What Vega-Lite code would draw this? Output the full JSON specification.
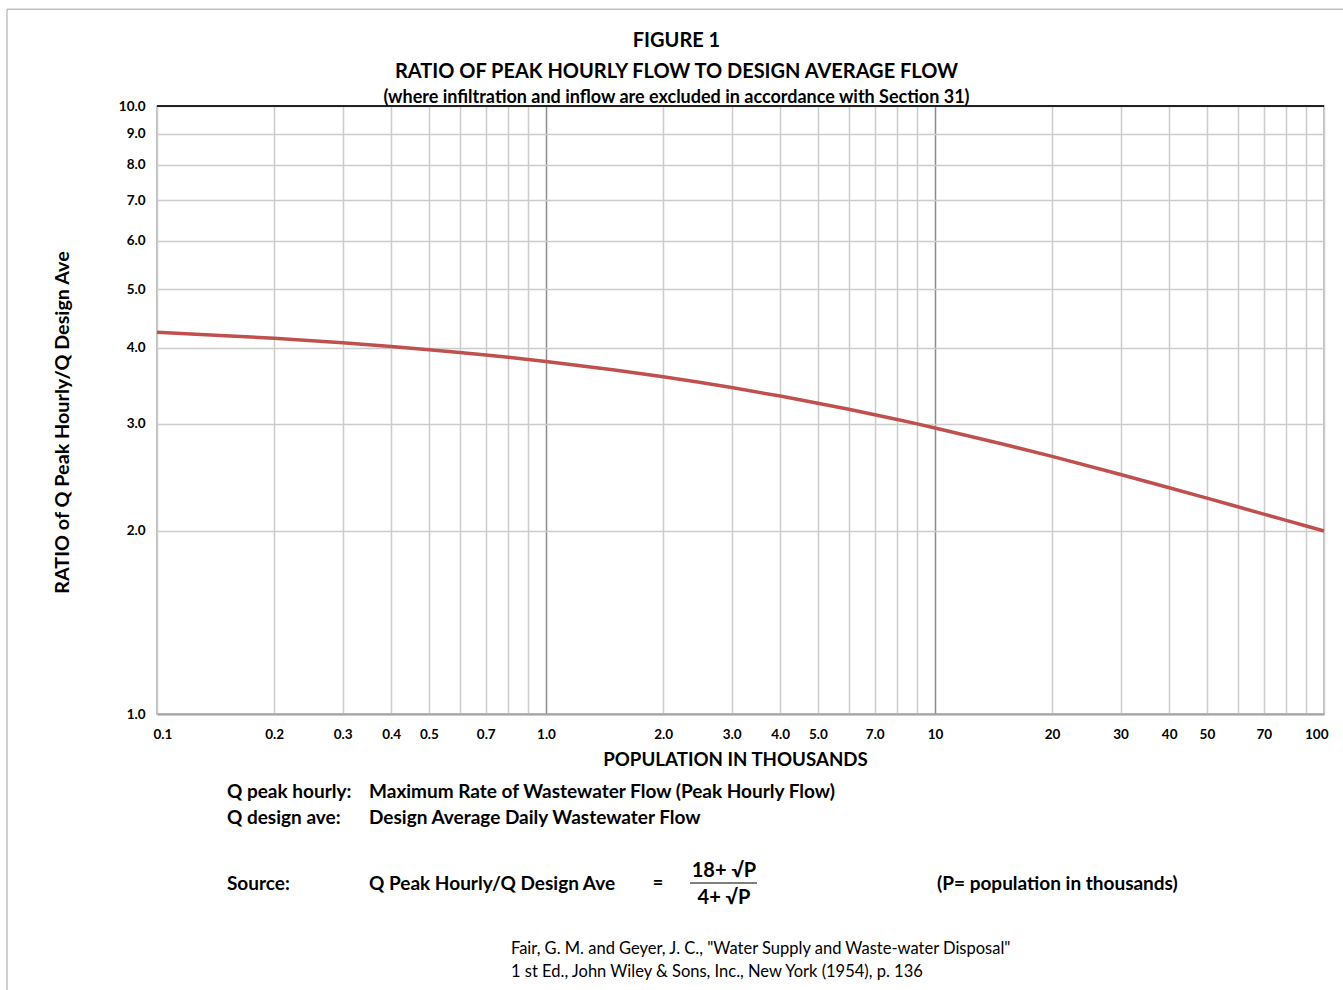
{
  "$schema": "https://vega.github.io/schema/vega-lite/v6.json",
  "width": 1167,
  "height": 608,
  "autosize": {"type": "none"},
  "padding": {"left": 157, "top": 106, "right": 19, "bottom": 276},
  "background": "white",
  "config": {
    "font": "Lato",
    "view": {"stroke": "#a6a6a6", "strokeWidth": 1.5}
  },
  "title": {
    "text": ["FIGURE 1", "RATIO OF PEAK HOURLY FLOW TO DESIGN AVERAGE FLOW"],
    "subtitle": "(where infiltration and inflow are excluded in accordance with Section 31)",
    "font": "Lato",
    "fontSize": 20,
    "fontWeight": "bold",
    "lineHeight": 31,
    "color": "#000000",
    "subtitleFont": "Lato",
    "subtitleFontSize": 18,
    "subtitleFontWeight": "bold",
    "subtitleColor": "#000000",
    "subtitlePadding": 7,
    "anchor": "middle",
    "dx": -64,
    "dy": 101,
    "offset": 3
  },
  "layer": [
    {
      "data": {
        "values": [
          {"population": 0.1, "ratio": 4.2436},
          {"population": 0.15, "ratio": 4.191},
          {"population": 0.2, "ratio": 4.148},
          {"population": 0.3, "ratio": 4.0785},
          {"population": 0.4, "ratio": 4.0222},
          {"population": 0.5, "ratio": 3.9742},
          {"population": 0.6, "ratio": 3.9322},
          {"population": 0.7, "ratio": 3.8946},
          {"population": 0.8, "ratio": 3.8604},
          {"population": 0.9, "ratio": 3.8291},
          {"population": 1, "ratio": 3.8},
          {"population": 1.5, "ratio": 3.6795},
          {"population": 2, "ratio": 3.5858},
          {"population": 3, "ratio": 3.4424},
          {"population": 4, "ratio": 3.3333},
          {"population": 5, "ratio": 3.245},
          {"population": 6, "ratio": 3.1707},
          {"population": 7, "ratio": 3.1066},
          {"population": 8, "ratio": 3.0503},
          {"population": 9, "ratio": 3.0},
          {"population": 10, "ratio": 2.9547},
          {"population": 15, "ratio": 2.7782},
          {"population": 20, "ratio": 2.6525},
          {"population": 30, "ratio": 2.4772},
          {"population": 40, "ratio": 2.356},
          {"population": 50, "ratio": 2.2646},
          {"population": 60, "ratio": 2.1919},
          {"population": 70, "ratio": 2.1321},
          {"population": 80, "ratio": 2.0816},
          {"population": 90, "ratio": 2.0381},
          {"population": 100, "ratio": 2.0}
        ]
      },
      "mark": {"type": "line", "color": "#c0504d", "strokeWidth": 3.5, "interpolate": "monotone"},
      "encoding": {
        "x": {
          "field": "population",
          "type": "quantitative",
          "scale": {"type": "log", "domain": [0.1, 100], "nice": false},
          "axis": {
            "title": "POPULATION IN THOUSANDS",
            "values": [0.1, 0.2, 0.3, 0.4, 0.5, 0.6, 0.7, 0.8, 0.9, 1, 2, 3, 4, 5, 6, 7, 8, 9, 10, 20, 30, 40, 50, 60, 70, 80, 90, 100],
            "labelExpr": "indexof([0.6, 0.8, 0.9, 6, 8, 9, 60, 80, 90], datum.value) >= 0 ? '' : (datum.value < 10 ? format(datum.value, '.1f') : format(datum.value, 'd'))",
            "labelFont": "Lato",
            "labelFontSize": 13.5,
            "labelFontWeight": "bold",
            "labelColor": "#000000",
            "labelPadding": 13,
            "labelFlush": true,
            "labelFlushOffset": 4,
            "labelOverlap": false,
            "ticks": false,
            "domainColor": "#a6a6a6",
            "domainWidth": 2,
            "gridColor": {"condition": {"test": "datum.value == 1 || datum.value == 10", "value": "#8c8c8c"}, "value": "#cccccc"},
            "gridWidth": 1.5,
            "titleFont": "Lato",
            "titleFontSize": 18.7,
            "titleFontWeight": "bold",
            "titleColor": "#000000",
            "titleX": 578,
            "titleY": 45,
            "titleBaseline": "middle"
          }
        },
        "y": {
          "field": "ratio",
          "type": "quantitative",
          "scale": {"type": "log", "domain": [1, 10], "nice": false},
          "axis": {
            "title": "RATIO of Q Peak Hourly/Q Design Ave",
            "values": [1, 2, 3, 4, 5, 6, 7, 8, 9, 10],
            "format": ".1f",
            "labelFont": "Lato",
            "labelFontSize": 13.5,
            "labelFontWeight": "bold",
            "labelColor": "#000000",
            "labelPadding": 12,
            "labelOverlap": false,
            "ticks": false,
            "domain": false,
            "gridColor": "#cccccc",
            "gridWidth": 1.5,
            "titleFont": "Lato",
            "titleFontSize": 19.8,
            "titleFontWeight": "bold",
            "titleColor": "#000000",
            "titleX": -95,
            "titleY": 316,
            "titleAngle": -90,
            "titleBaseline": "middle"
          }
        }
      }
    },
    {
      "data": {"values": [{}]},
      "mark": {"type": "rule", "color": "#222222", "strokeWidth": 2},
      "encoding": {"y": {"datum": 10}}
    },
    {
      "data": {"values": [{}]},
      "mark": {"type": "rule", "color": "#a0a0a0", "strokeWidth": 1},
      "encoding": {"x": {"datum": 0.04115}, "y": {"datum": 14.43}, "y2": {"datum": 0.3}}
    },
    {
      "data": {"values": [{}]},
      "mark": {"type": "rule", "color": "#a0a0a0", "strokeWidth": 1},
      "encoding": {"y": {"datum": 14.43}, "x": {"datum": 0.04115}, "x2": {"datum": 120}}
    },
    {
      "data": {"values": [{}]},
      "mark": {"type": "text", "align": "left", "baseline": "middle", "font": "Lato", "fontSize": 19, "fontWeight": "bold", "color": "#000000"},
      "encoding": {"x": {"datum": 0.1513}, "y": {"datum": 0.7437}, "text": {"value": "Q peak hourly:"}}
    },
    {
      "data": {"values": [{}]},
      "mark": {"type": "text", "align": "left", "baseline": "middle", "font": "Lato", "fontSize": 19, "fontWeight": "bold", "color": "#000000"},
      "encoding": {"x": {"datum": 0.3508}, "y": {"datum": 0.7437}, "text": {"value": "Maximum Rate of Wastewater Flow (Peak Hourly Flow)"}}
    },
    {
      "data": {"values": [{}]},
      "mark": {"type": "text", "align": "left", "baseline": "middle", "font": "Lato", "fontSize": 19, "fontWeight": "bold", "color": "#000000"},
      "encoding": {"x": {"datum": 0.1513}, "y": {"datum": 0.6744}, "text": {"value": "Q design ave:"}}
    },
    {
      "data": {"values": [{}]},
      "mark": {"type": "text", "align": "left", "baseline": "middle", "font": "Lato", "fontSize": 19, "fontWeight": "bold", "color": "#000000"},
      "encoding": {"x": {"datum": 0.3508}, "y": {"datum": 0.6744}, "text": {"value": "Design Average Daily Wastewater Flow"}}
    },
    {
      "data": {"values": [{}]},
      "mark": {"type": "text", "align": "left", "baseline": "middle", "font": "Lato", "fontSize": 19, "fontWeight": "bold", "color": "#000000"},
      "encoding": {"x": {"datum": 0.1513}, "y": {"datum": 0.5253}, "text": {"value": "Source:"}}
    },
    {
      "data": {"values": [{}]},
      "mark": {"type": "text", "align": "left", "baseline": "middle", "font": "Lato", "fontSize": 19, "fontWeight": "bold", "color": "#000000"},
      "encoding": {"x": {"datum": 0.3508}, "y": {"datum": 0.5253}, "text": {"value": "Q  Peak Hourly/Q Design Ave"}}
    },
    {
      "data": {"values": [{}]},
      "mark": {"type": "text", "align": "center", "baseline": "middle", "font": "Lato", "fontSize": 18, "fontWeight": "bold", "color": "#000000"},
      "encoding": {"x": {"datum": 1.941}, "y": {"datum": 0.5253}, "text": {"value": "="}}
    },
    {
      "data": {"values": [{}]},
      "mark": {"type": "text", "align": "center", "baseline": "middle", "font": "Lato", "fontSize": 20, "fontWeight": "bold", "color": "#000000"},
      "encoding": {"x": {"datum": 2.868}, "y": {"datum": 0.5519}, "text": {"value": "18+ √P"}}
    },
    {
      "data": {"values": [{}]},
      "mark": {"type": "rule", "color": "#000000", "strokeWidth": 1.2},
      "encoding": {"x": {"datum": 2.346}, "x2": {"datum": 3.486}, "y": {"datum": 0.5273}}
    },
    {
      "data": {"values": [{}]},
      "mark": {"type": "text", "align": "center", "baseline": "middle", "font": "Lato", "fontSize": 20, "fontWeight": "bold", "color": "#000000"},
      "encoding": {"x": {"datum": 2.868}, "y": {"datum": 0.4982}, "text": {"value": "4+ √P"}}
    },
    {
      "data": {"values": [{}]},
      "mark": {"type": "text", "align": "left", "baseline": "middle", "font": "Lato", "fontSize": 19, "fontWeight": "bold", "color": "#000000"},
      "encoding": {"x": {"datum": 10.12}, "y": {"datum": 0.5253}, "text": {"value": "(P= population in thousands)"}}
    },
    {
      "data": {"values": [{}]},
      "mark": {"type": "text", "align": "left", "baseline": "middle", "font": "Lato", "fontSize": 16.5, "color": "#000000"},
      "encoding": {"x": {"datum": 0.8128}, "y": {"datum": 0.4107}, "text": {"value": "Fair, G. M. and Geyer, J. C., \"Water Supply and Waste-water Disposal\""}}
    },
    {
      "data": {"values": [{}]},
      "mark": {"type": "text", "align": "left", "baseline": "middle", "font": "Lato", "fontSize": 16.5, "color": "#000000"},
      "encoding": {"x": {"datum": 0.8128}, "y": {"datum": 0.3763}, "text": {"value": "1 st Ed., John Wiley & Sons, Inc., New York (1954), p. 136"}}
    }
  ]
}
